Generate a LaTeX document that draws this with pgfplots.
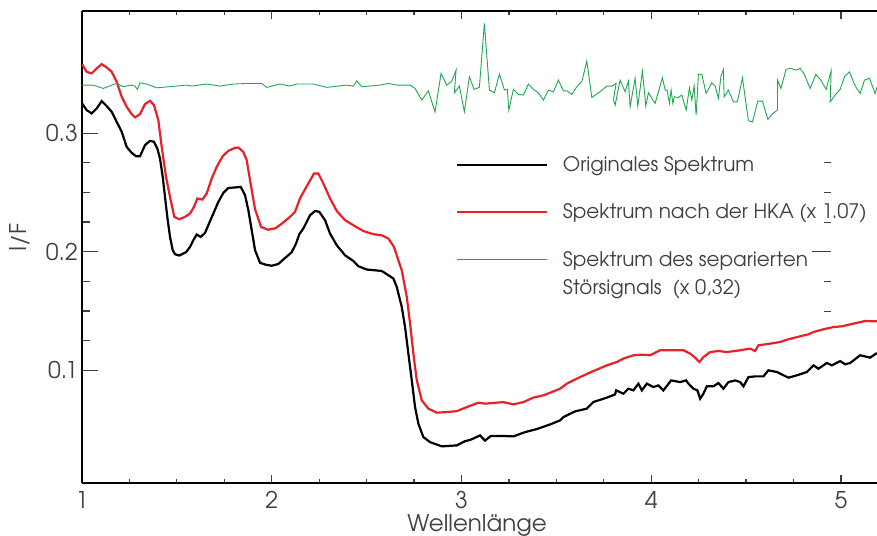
\documentclass[border=0pt]{standalone}
\usepackage{fontspec}
\setmainfont{TeX Gyre Adventor}
\usepackage{pgfplots}
\pgfplotsset{compat=1.18}
\definecolor{spekred}{RGB}{232,32,40}
\definecolor{spekgreen}{RGB}{30,168,80}
\definecolor{axisgray}{RGB}{64,64,64}

\begin{document}
\begin{tikzpicture}
\begin{axis}[
  scale only axis, width=795pt, height=472pt,
  xmin=1, xmax=5.19, ymin=0.005, ymax=0.403,
  axis y line*=left,
  axis line style={black, line width=1.3pt},
  xtick={1,2,3,4,5}, ytick={0.1,0.2,0.3},
  minor x tick num=3, minor y tick num=3,
  tick align=inside,
  major tick length=8pt, minor tick length=4pt,
  tick style={axisgray, line width=1.2pt},
  every y tick/.append style={/pgfplots/major tick length=16pt, /pgfplots/minor tick length=8pt},
  /pgf/number format/assume math mode=true,
  ticklabel style={font=\fontsize{23}{27}\selectfont, text=axisgray},
  xticklabel style={anchor=base, yshift=-25pt},
  yticklabel style={anchor=east, inner sep=0pt, xshift=-4pt},
  xlabel={Wellenlänge}, ylabel={I/F},
  label style={font=\fontsize{23}{27}\selectfont, text=axisgray},
  x label style={at={(axis description cs:0.497,-0.1038)}, anchor=base},
  y label style={at={(axis description cs:-0.078,0.52)}, anchor=center},
  legend style={at={(rel axis cs:0.466,0.70)}, anchor=north west, draw=none, fill=none,
    font=\fontsize{20}{24}\selectfont, text=axisgray, row sep=26pt,
    /tikz/every odd column/.style={column sep=13pt}},
  legend image code/.code={\draw[#1] (0pt,0pt) -- (90pt,0pt);},
  legend cell align=left,
]
% original spectrum
\addplot[black, line width=2.2pt] coordinates {
(1.000,0.3251) (1.0248,0.3194) (1.0511,0.3166) (1.0775,0.3208) (1.1038,0.3270)
(1.1302,0.3228) (1.1565,0.3180) (1.1829,0.3095) (1.2093,0.3011) (1.2356,0.2884)
(1.2620,0.2834) (1.2846,0.2806) (1.3057,0.2806) (1.3321,0.2899) (1.3585,0.2935)
(1.3795,0.2927) (1.3969,0.2871) (1.4112,0.2786) (1.4254,0.2631) (1.4375,0.2462)
(1.4496,0.2294) (1.4639,0.2125) (1.4781,0.2013) (1.4902,0.1979) (1.5129,0.1968)
(1.5482,0.1996) (1.5693,0.2040) (1.5867,0.2097) (1.6046,0.2145) (1.6257,0.2125)
(1.6484,0.2159) (1.6658,0.2224) (1.6921,0.2322) (1.7185,0.2420) (1.7449,0.2496)
(1.7712,0.2538) (1.8065,0.2542) (1.8366,0.2547) (1.8593,0.2477) (1.8767,0.2350)
(1.8946,0.2181) (1.9120,0.2013) (1.9383,0.1907) (1.9700,0.1890) (2.0000,0.1882)
(2.0348,0.1897) (2.0701,0.1947) (2.1054,0.1996) (2.1281,0.2069) (2.1455,0.2148)
(2.1666,0.2196) (2.2019,0.2308) (2.2283,0.2344) (2.2509,0.2336) (2.2810,0.2266)
(2.3073,0.2153) (2.3427,0.2055) (2.3864,0.1970) (2.4302,0.1922) (2.4566,0.1878)
(2.5008,0.1850) (2.5799,0.1838) (2.6147,0.1802) (2.6411,0.1774) (2.6590,0.1703)
(2.6853,0.1534) (2.7027,0.1365) (2.7201,0.1141) (2.7380,0.0916) (2.7554,0.0690)
(2.7728,0.0550) (2.7992,0.0437) (2.8345,0.0395) (2.8961,0.0359) (2.9752,0.0367)
(3.0190,0.0403) (3.0453,0.0413) (3.0980,0.0451) (3.1244,0.0407) (3.1544,0.0447)
(3.2087,0.0447) (3.2736,0.0443) (3.3353,0.0479) (3.3970,0.0505) (3.4671,0.0544)
(3.5198,0.0578) (3.5372,0.0606) (3.5989,0.0654) (3.6605,0.0677) (3.6953,0.0733)
(3.7660,0.0770) (3.8097,0.0797) (3.8150,0.0831) (3.8535,0.0803) (3.8798,0.0845)
(3.9062,0.0831) (3.9326,0.0888) (3.9505,0.0831) (3.9768,0.0888) (4.0116,0.0859)
(4.0380,0.0873) (4.0643,0.0831) (4.1049,0.0915) (4.1523,0.0901) (4.1840,0.0915)
(4.1961,0.0888) (4.2225,0.0845) (4.2435,0.0831) (4.2578,0.0761) (4.2752,0.0803)
(4.2931,0.0865) (4.3279,0.0865) (4.3543,0.0893) (4.3806,0.0845) (4.4070,0.0901)
(4.4423,0.0915) (4.4687,0.0901) (4.4861,0.0865) (4.5124,0.0943) (4.5477,0.0949)
(4.5915,0.0949) (4.6178,0.1000) (4.6621,0.0986) (4.7233,0.0938) (4.7675,0.0958)
(4.8203,0.0986) (4.8551,0.1042) (4.8814,0.1014) (4.9257,0.1062) (4.9520,0.1042)
(4.9958,0.1078) (5.0221,0.1051) (5.0485,0.1062) (5.1012,0.1127) (5.1539,0.1107)
(5.1892,0.1146)
};
\addlegendentry{Originales Spektrum}
% spectrum after the principal component analysis
\addplot[spekred, line width=2.2pt] coordinates {
(1.000,0.3582) (1.0248,0.3517) (1.0511,0.3504) (1.0775,0.3546) (1.1038,0.3582)
(1.1302,0.3554) (1.1565,0.3517) (1.1829,0.3433) (1.2093,0.3306) (1.2356,0.3222)
(1.2620,0.3160) (1.2794,0.3133) (1.3057,0.3160) (1.3321,0.3245) (1.3585,0.3273)
(1.3795,0.3236) (1.4022,0.3110) (1.4201,0.2884) (1.4428,0.2631) (1.4639,0.2462)
(1.4866,0.2294) (1.5129,0.2274) (1.5430,0.2294) (1.5693,0.2322) (1.5904,0.2378)
(1.6078,0.2449) (1.6342,0.2440) (1.6574,0.2491) (1.6837,0.2618) (1.7101,0.2716)
(1.7417,0.2806) (1.7712,0.2851) (1.8065,0.2876) (1.8239,0.2879) (1.8503,0.2842)
(1.8682,0.2772) (1.8856,0.2603) (1.9120,0.2359) (1.9436,0.2209) (1.9805,0.2186)
(2.0200,0.2198) (2.0596,0.2245) (2.0965,0.2295) (2.1228,0.2336) (2.1492,0.2451)
(2.1929,0.2576) (2.2230,0.2660) (2.2457,0.2660) (2.2720,0.2576) (2.3073,0.2449)
(2.3427,0.2344) (2.3864,0.2266) (2.4391,0.2215) (2.4829,0.2175) (2.5356,0.2148)
(2.5799,0.2139) (2.6147,0.2111) (2.6447,0.2040) (2.6674,0.1928) (2.6853,0.1844)
(2.7117,0.1619) (2.7291,0.1394) (2.7465,0.1141) (2.7644,0.0916) (2.7908,0.0747)
(2.8255,0.0677) (2.8698,0.0643) (2.9225,0.0648) (2.9752,0.0656) (3.0279,0.0690)
(3.0891,0.0727) (3.1244,0.0719) (3.2203,0.0732) (3.2736,0.0713) (3.3263,0.0732)
(3.3791,0.0770) (3.4318,0.0789) (3.5198,0.0845) (3.5551,0.0888) (3.6252,0.0943)
(3.6953,0.0994) (3.7660,0.1042) (3.8187,0.1070) (3.8535,0.1099) (3.9062,0.1127)
(3.9505,0.1132) (3.9942,0.1127) (4.0469,0.1169) (4.1697,0.1169) (4.2051,0.1141)
(4.2314,0.1107) (4.2541,0.1070) (4.2752,0.1112) (4.3105,0.1154) (4.3543,0.1163)
(4.3986,0.1154) (4.4687,0.1169) (4.5214,0.1183) (4.5477,0.1163) (4.5651,0.1211)
(4.6268,0.1225) (4.6795,0.1239) (4.7233,0.1262) (4.7849,0.1287) (4.8287,0.1304)
(4.8551,0.1323) (4.9078,0.1346) (4.9605,0.1365) (5.0047,0.1371) (5.0659,0.1394)
(5.1276,0.1416) (5.1892,0.1413)
};
\addlegendentry{Spektrum nach der HKA (x 1.07)}
% separated noise signal
\addplot[spekgreen, line width=0.9pt] coordinates {
(1.000,0.3405) (1.0599,0.3405) (1.1127,0.3377) (1.1565,0.3405) (1.1829,0.3419)
(1.2178,0.3391) (1.2531,0.3405) (1.2794,0.3397) (1.2916,0.3369) (1.3057,0.3425)
(1.3410,0.3414) (1.3938,0.3382) (1.5519,0.3405) (1.5782,0.3397) (1.6573,0.3414)
(1.7274,0.3397) (1.7976,0.3414) (1.8679,0.3419) (1.9470,0.3419) (1.9733,0.3386)
(2.0438,0.3414) (2.0965,0.3397) (2.1318,0.3414) (2.2192,0.3414) (2.2894,0.3386)
(2.3948,0.3405) (2.4302,0.3397) (2.4478,0.3441) (2.4741,0.3391) (2.5704,0.3405)
(2.6147,0.3419) (2.6590,0.3405) (2.7291,0.3405) (2.7554,0.3377) (2.7908,0.3279)
(2.8255,0.3357) (2.8606,0.3177) (2.8924,0.3504) (2.9225,0.3405) (2.9489,0.3439)
(2.9716,0.3532) (2.9626,0.3340) (2.9889,0.3397) (3.0153,0.3180) (3.0417,0.3475)
(3.0664,0.3369) (3.0944,0.3386) (3.1207,0.3926) (3.1471,0.3363) (3.1735,0.3340)
(3.1998,0.3498) (3.2262,0.3363) (3.2420,0.3369) (3.2493,0.3194) (3.2736,0.3369)
(3.3000,0.3327) (3.3263,0.3321) (3.3527,0.3414) (3.3791,0.3369) (3.4054,0.3340)
(3.4318,0.3279) (3.4582,0.3363) (3.4845,0.3349) (3.5109,0.3447) (3.5372,0.3357)
(3.5551,0.3357) (3.5815,0.3327) (3.6078,0.3391) (3.6342,0.3433) (3.6605,0.3608)
(3.6869,0.3301) (3.7306,0.3349) (3.7660,0.3397) (3.7923,0.3397) (3.8150,0.3419)
(3.8008,0.3284) (3.8097,0.3236) (3.8361,0.3447) (3.8624,0.3349) (3.8798,0.3439)
(3.8888,0.3222) (3.9151,0.3462) (3.9293,0.3228) (3.9536,0.3523) (3.9715,0.3228)
(3.9852,0.3340) (4.0205,0.3251) (4.0590,0.3467) (4.0733,0.3363) (4.0838,0.3363)
(4.0960,0.3251) (4.1049,0.3363) (4.1139,0.3251) (4.1223,0.3306) (4.1434,0.3301)
(4.1613,0.3321) (4.1840,0.3194) (4.2014,0.3382) (4.2140,0.3279) (4.2262,0.3397)
(4.2367,0.3152) (4.2488,0.3498) (4.2667,0.3495) (4.2894,0.3335) (4.3194,0.3425)
(4.3369,0.3397) (4.3543,0.3293) (4.3669,0.3475) (4.3806,0.3538) (4.3843,0.3306)
(4.4070,0.3363) (4.4333,0.3264) (4.4544,0.3264) (4.4808,0.3467) (4.5124,0.3104)
(4.5335,0.3095) (4.5620,0.3270) (4.5862,0.3270) (4.6147,0.3116) (4.6410,0.3166)
(4.6653,0.3194) (4.6660,0.3447) (4.6832,0.3377) (4.7111,0.3538) (4.7322,0.3546)
(4.7638,0.3532) (4.7849,0.3546) (4.8060,0.3498) (4.8376,0.3377) (4.8677,0.3495)
(4.8941,0.3447) (4.9220,0.3369) (4.9484,0.3526) (4.9431,0.3264) (4.9694,0.3321)
(4.9958,0.3369) (5.0185,0.3475) (5.0448,0.3517) (5.0749,0.3397) (5.1012,0.3335)
(5.1239,0.3447) (5.1502,0.3462) (5.1802,0.3335) (5.1908,0.3391)
};
\addlegendentry{\begin{tabular}[t]{@{}l@{}}Spektrum des separierten\\[4pt]Störsignals\ \ (x 0,32)\end{tabular}}
% tick dashes of the second frame, visible beside the legend
\draw[axisgray, line width=1pt]
  (axis cs:4.913,0.275) -- (axis cs:4.948,0.275)
  (axis cs:4.913,0.250) -- (axis cs:4.948,0.250)
  (axis cs:4.913,0.225) -- (axis cs:4.948,0.225)
  (axis cs:4.850,0.200) -- (axis cs:4.948,0.200)
  (axis cs:4.913,0.175) -- (axis cs:4.948,0.175)
  (axis cs:4.913,0.150) -- (axis cs:4.948,0.150);
\end{axis}
\pgfresetboundingbox
\useasboundingbox (-82pt,-52pt) rectangle (795pt,483pt);
\end{tikzpicture}
\end{document}
